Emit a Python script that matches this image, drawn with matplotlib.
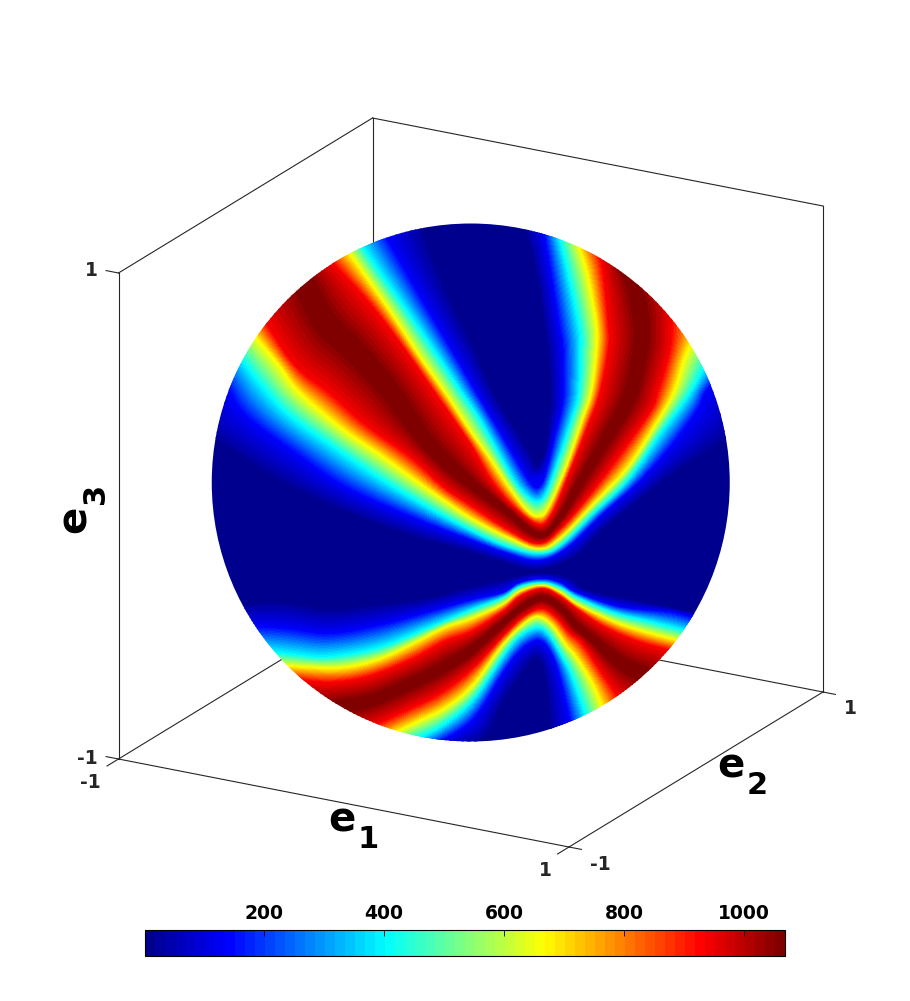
import numpy as np
import matplotlib
matplotlib.use('Agg')
import matplotlib.pyplot as plt
from matplotlib.cm import ScalarMappable
from matplotlib.colors import LinearSegmentedColormap, Normalize
from matplotlib.patches import Circle
from matplotlib.tri import Triangulation

# colour levels
vmin, vmax = 2, 1068
NAVY, BLUE, CYAN, YELLOW, RED, PEAK = 2, 135, 402, 668, 935, 1090
cbar_ticks = [200, 400, 600, 800, 1000]

# where each colour runs across the sphere (picture pixels), upper band
up_N1 = [(425,229),(432,250),(452,300),(476,350),(495,394),(517,430),(533,457),(538,465),(545,450),(548,423),(550,390),(540,300),(527,240),(515,228)]
up_B1 = [(385,237),(405,270),(425,305),(455,356),(474,389),(503,438),(520,467),(530,483),(538,488),(545,477),(555,437),(563,400),(563,350),(559,324),(550,267),(540,236)]
up_C1 = [(362,249),(379,272),(405,309),(439,359),(460,391),(477,416),(493,444),(513,480),(527,497),(538,502),(547,493),(560,457),(573,417),(579,395),(581,350),(579,324),(567,267),(555,239)]
up_Y1 = [(349,256),(389,311),(419,357),(445,394),(470,432),(490,460),(510,490),(527,512),(538,517),(548,510),(567,467),(583,420),(592,392),(597,350),(597,324),(588,274),(573,246)]
up_R1 = [(332,266),(369,304),(402,347),(432,390),(470,445),(490,480),(513,507),(538,525),(552,515),(570,473),(587,430),(600,395),(609,350),(609,324),(603,267),(593,254)]
up_D = [(309,281),(325,321),(352,347),(380,377),(394,395),(429,447),(470,483),(503,507),(538,535),(557,522),(583,477),(610,433),(630,397),(641,350),(642,324),(634,287),(620,271)]
up_R2 = [(269,321),(295,364),(330,392),(365,423),(412,457),(445,487),(472,505),(505,527),(538,543),(560,528),(587,497),(620,453),(650,410),(657,392),(669,350),(671,324),(667,311)]
up_Y2 = [(259,336),(279,364),(300,392),(345,430),(379,453),(412,477),(445,500),(472,518),(505,535),(538,548),(560,537),(593,503),(627,467),(653,427),(673,392),(683,360),(686,341)]
up_C2 = [(245,357),(262,385),(290,415),(329,443),(379,477),(429,507),(472,530),(505,545),(538,553),(560,545),(593,513),(627,480),(660,433),(688,395),(700,364)]
up_B2 = [(232,384),(245,415),(295,453),(345,487),(412,517),(472,540),(505,552),(538,560),(567,547),(603,513),(637,483),(670,447),(697,410),(705,392),(712,381)]
up_N2 = [(216,440),(279,483),(345,513),(412,537),(472,553),(505,563),(538,570),(575,557),(603,530),(637,503),(670,477),(703,457),(726,440)]

# lower band
lo_Nu = [(240,600),(279,600),(329,607),(379,603),(429,597),(472,586),(515,577),(542,573),(570,578),(587,590),(637,600),(695,610)]
lo_B = [(252,622),(285,628),(329,633),(379,625),(429,612),(472,600),(503,593),(520,583),(542,579),(560,583),(577,593),(620,607),(670,612),(692,615)]
lo_C = [(269,647),(295,655),(329,657),(379,648),(429,628),(472,610),(503,598),(520,587),(542,583),(560,588),(577,598),(613,613),(650,622),(683,627)]
lo_Y = [(282,660),(312,668),(345,668),(379,660),(412,645),(445,628),(472,619),(503,605),(520,592),(542,586),(560,593),(577,605),(613,622),(643,632),(678,638)]
lo_Ro = [(292,677),(329,683),(369,677),(412,660),(445,642),(472,632),(503,612),(520,597),(542,589),(560,597),(580,612),(603,627),(637,642),(671,648)]
lo_D = [(332,701),(372,700),(412,683),(445,667),(472,650),(503,623),(523,607),(542,598),(560,607),(577,627),(593,640),(620,663),(648,672)]
lo_Ri = [(369,722),(405,710),(439,693),(472,668),(503,635),(523,616),(542,608),(557,617),(570,632),(583,643),(603,673),(618,695)]
lo_Yi = [(389,728),(419,720),(445,707),(472,685),(503,643),(527,620),(540,616),(553,625),(567,645),(577,657),(593,683),(602,707)]
lo_Ci = [(409,733),(439,727),(472,700),(503,655),(520,635),(538,627),(550,635),(563,657),(570,670),(580,697),(585,716)]
lo_Bi = [(432,738),(472,720),(503,672),(520,650),(538,640),(550,650),(560,677),(569,722)]
lo_Ni = [(462,741),(487,737),(503,703),(527,668),(538,660),(545,683),(547,733)]

# navy stretches of the rim between the bands
rim_navy = [(471,224),(450,225),(495,225),(214,483),(216,520),(222,560),(728,483),(726,520),(720,560),(708,590),(500,740),(520,737)]

isolines = [(up_N1,NAVY),(up_B1,BLUE),(up_C1,CYAN),(up_Y1,YELLOW),(up_R1,RED),(up_D,PEAK),
            (up_R2,RED),(up_Y2,YELLOW),(up_C2,CYAN),(up_B2,BLUE),(up_N2,NAVY),
            (lo_Nu,NAVY),(lo_B,BLUE),(lo_C,CYAN),(lo_Y,YELLOW),(lo_Ro,RED),(lo_D,PEAK),
            (lo_Ri,RED),(lo_Yi,YELLOW),(lo_Ci,CYAN),(lo_Bi,BLUE),(lo_Ni,NAVY)]

# box corner and edge directions in picture pixels
origin = np.array([118.5, 759.0])
vec1 = np.array([450.5, 88.0])
vec2 = np.array([254.0, -155.0])
vec3 = np.array([0.0, -486.0])


def proj(e1, e2, e3):
    return origin + (e1 + 1) / 2 * vec1 + (e2 + 1) / 2 * vec2 + (e3 + 1) / 2 * vec3


center = proj(0, 0, 0)
radius = 259


def mesh_line(pts, n=12):
    # run a line just past the rim, round it with a catmull-rom curve for the mesh
    pts = np.array(pts, dtype=float)
    for i in (0, -1):
        d = pts[i] - center
        if np.hypot(*d) > 220:
            pts[i] = center + d / np.hypot(*d) * (radius + 8)
    p = np.vstack([2 * pts[0] - pts[1], pts, 2 * pts[-1] - pts[-2]])
    out = []
    for i in range(1, len(p) - 2):
        t = np.linspace(0, 1, n, endpoint=False)[:, None]
        out.append(0.5 * (2 * p[i] + (p[i + 1] - p[i - 1]) * t
                          + (2 * p[i - 1] - 5 * p[i] + 4 * p[i + 1] - p[i + 2]) * t ** 2
                          + (3 * p[i] - p[i - 1] - 3 * p[i + 1] + p[i + 2]) * t ** 3))
    out.append(pts[-1:])
    return np.vstack(out)


xy, val = [], []
for line, level in isolines:
    m = mesh_line(line)
    xy.append(m)
    val.append(np.full(len(m), level, dtype=float))
for p in rim_navy:
    d = np.array(p, dtype=float) - center
    xy.append((center + d / np.hypot(*d) * (radius + 8))[None, :])
    val.append(np.array([NAVY], dtype=float))
xy = np.vstack(xy)
val = np.concatenate(val)

fig = plt.figure(figsize=(9.10, 10.01), dpi=100)
ax = fig.add_axes([0, 0, 1, 1])
ax.set_xlim(0, 910)
ax.set_ylim(1001, 0)
ax.axis('off')

# box edges
edges = [((-1,-1,-1),(1,-1,-1)), ((1,-1,-1),(1,1,-1)), ((1,1,-1),(-1,1,-1)), ((-1,1,-1),(-1,-1,-1)),
         ((-1,-1,-1),(-1,-1,1)), ((-1,-1,1),(-1,1,1)), ((-1,1,1),(1,1,1)), ((1,1,1),(1,1,-1)), ((-1,1,-1),(-1,1,1))]
for a, b in edges:
    pa, pb = proj(*a), proj(*b)
    ax.plot([pa[0], pb[0]], [pa[1], pb[1]], color='#262626', lw=0.8, zorder=1)

# tick marks
ticks = [((-1,-1,-1),(-1,-1.09,-1)), ((1,-1,-1),(1,-1.09,-1)),
         ((-1,-1,-1),(-1.055,-1,-1)), ((1,1,-1),(1.055,1,-1)), ((1,-1,-1),(1.055,-1,-1)),
         ((-1,-1,1),(-1.055,-1,1))]
for a, b in ticks:
    pa, pb = proj(*a), proj(*b)
    ax.plot([pa[0], pb[0]], [pa[1], pb[1]], color='#262626', lw=0.8, zorder=1)

# sphere, the reference uses matlab's jet with 64 steps
cmap = LinearSegmentedColormap.from_list('matlab_jet', [(0, (0, 0, 0.5625)), (1 / 8, (0, 0, 1)), (3 / 8, (0, 1, 1)),
                                                        (5 / 8, (1, 1, 0)), (7 / 8, (1, 0, 0)), (1, (0.5, 0, 0))], N=64)
tri = Triangulation(xy[:, 0], xy[:, 1])
cs = ax.tricontourf(tri, val, levels=np.linspace(vmin, vmax, 65), cmap=cmap, extend='both',
                    antialiased=False, zorder=2)
disc = Circle(center, radius, transform=ax.transData)
cs.set_clip_path(disc)

# tick labels
tick_font = dict(fontsize=13.5, fontweight='bold', color='#262626', ha='center', va='center')
ax.text(91, 270, '1', **tick_font)
ax.text(87, 758, '-1', **tick_font)
ax.text(90, 783, '-1', **tick_font)
ax.text(545, 870, '1', **tick_font)
ax.text(600, 864, '-1', **tick_font)
ax.text(850, 709, '1', **tick_font)

# axis names
big = dict(fontweight='bold', color='black', ha='center', va='center')
ax.text(342, 820, 'e', fontsize=29, **big)
ax.text(368, 840, '1', fontsize=22, **big)
ax.text(731, 766, 'e', fontsize=29, **big)
ax.text(757, 786, '2', fontsize=22, **big)
ax.text(75, 519, 'e', fontsize=29, rotation=90, **big)
ax.text(96, 493, '3', fontsize=22, rotation=90, **big)

# colorbar
cax = fig.add_axes([145 / 910, 1 - 956 / 1001, 640 / 910, 26 / 1001])
cb = fig.colorbar(ScalarMappable(norm=Normalize(vmin, vmax), cmap=cmap), cax=cax, orientation='horizontal')
cb.set_ticks(cbar_ticks)
cax.tick_params(axis='x', top=True, bottom=False, labeltop=True, labelbottom=False,
                direction='in', length=4, width=0.6, pad=5, labelsize=13.5)
for lab in cax.get_xticklabels():
    lab.set_fontweight('bold')
cb.outline.set_linewidth(0.8)

fig.savefig('out.png', dpi=100)
